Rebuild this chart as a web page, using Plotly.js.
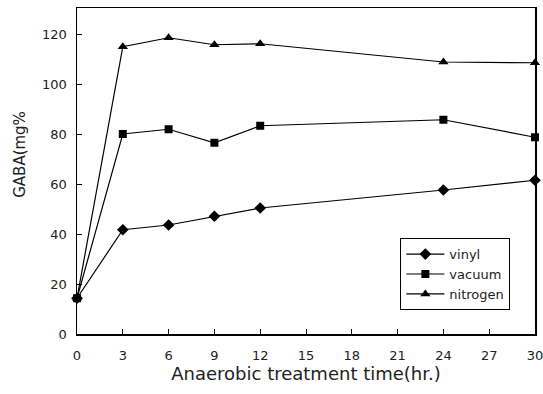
<!DOCTYPE html>
<html><head><meta charset="utf-8">
<script src="https://cdn.plot.ly/plotly-3.0.1.min.js"></script>
<style>html,body{margin:0;padding:0;background:#fff}#chart{width:543px;height:394px}</style>
</head><body><div id="chart"></div>
<script>
const times = [0, 3, 6, 9, 12, 24, 30];
const vinyl = [14.3, 41.7, 43.6, 47.1, 50.4, 57.6, 61.5];
const vacuum = [14.3, 80.0, 81.9, 76.5, 83.3, 85.7, 78.7];
const nitrogen = [14.3, 114.9, 118.5, 115.7, 116.1, 108.8, 108.5];
const xTicks = [0, 3, 6, 9, 12, 15, 18, 21, 24, 27, 30];
const yTicks = [0, 20, 40, 60, 80, 100, 120];

const font = {family: 'DejaVu Sans, sans-serif', color: '#222'};
function tr(name, y, sym, size) {
  return {x: times, y: y, name: name, type: 'scatter', mode: 'lines+markers',
    line: {color: '#000', width: 1.2}, marker: {symbol: sym, size: size, color: '#000'},
    cliponaxis: false};
}
const data = [
  tr('vinyl', vinyl, 'diamond', 9),
  tr('vacuum', vacuum, 'square', 8),
  tr('nitrogen', nitrogen, 'triangle-up', 9)
];
const layout = {
  width: 543, height: 394,
  margin: {l: 77, r: 8, t: 8, b: 60},
  paper_bgcolor: '#fff', plot_bgcolor: '#fff',
  font: Object.assign({size: 13}, font),
  showlegend: true,
  legend: {x: 0.706, y: 0.294, xanchor: 'left', yanchor: 'top',
    bordercolor: '#000', borderwidth: 1, bgcolor: '#fff',
    font: Object.assign({size: 13}, font), tracegroupgap: 0, itemwidth: 38},
  xaxis: {range: [0, 30], tickvals: xTicks, ticktext: xTicks.map(String),
    showgrid: false, zeroline: false, showline: true, linecolor: '#000', linewidth: 1.5,
    mirror: true, ticks: 'inside', ticklen: 5, tickcolor: '#000', ticklabelstandoff: 9,
    ticklabeloverflow: 'allow',
    tickfont: Object.assign({size: 13}, font),
    title: {text: 'Anaerobic treatment time(hr.)', font: Object.assign({size: 18}, font), standoff: 4}},
  yaxis: {range: [0, 130.4], tickvals: yTicks, ticktext: yTicks.map(String),
    showgrid: false, zeroline: false, showline: true, linecolor: '#000', linewidth: 1.5,
    mirror: true, ticks: 'inside', ticklen: 5, tickcolor: '#000', ticklabelstandoff: 6,
    tickfont: Object.assign({size: 13}, font)},
  annotations: [{text: 'GABA(mg%', textangle: -90, xref: 'paper', yref: 'paper',
    x: -0.125, y: 0.552, xanchor: 'center', yanchor: 'middle', showarrow: false,
    font: Object.assign({size: 15}, font)}]
};
Plotly.newPlot('chart', data, layout, {displayModeBar: false, staticPlot: true});
</script></body></html>
